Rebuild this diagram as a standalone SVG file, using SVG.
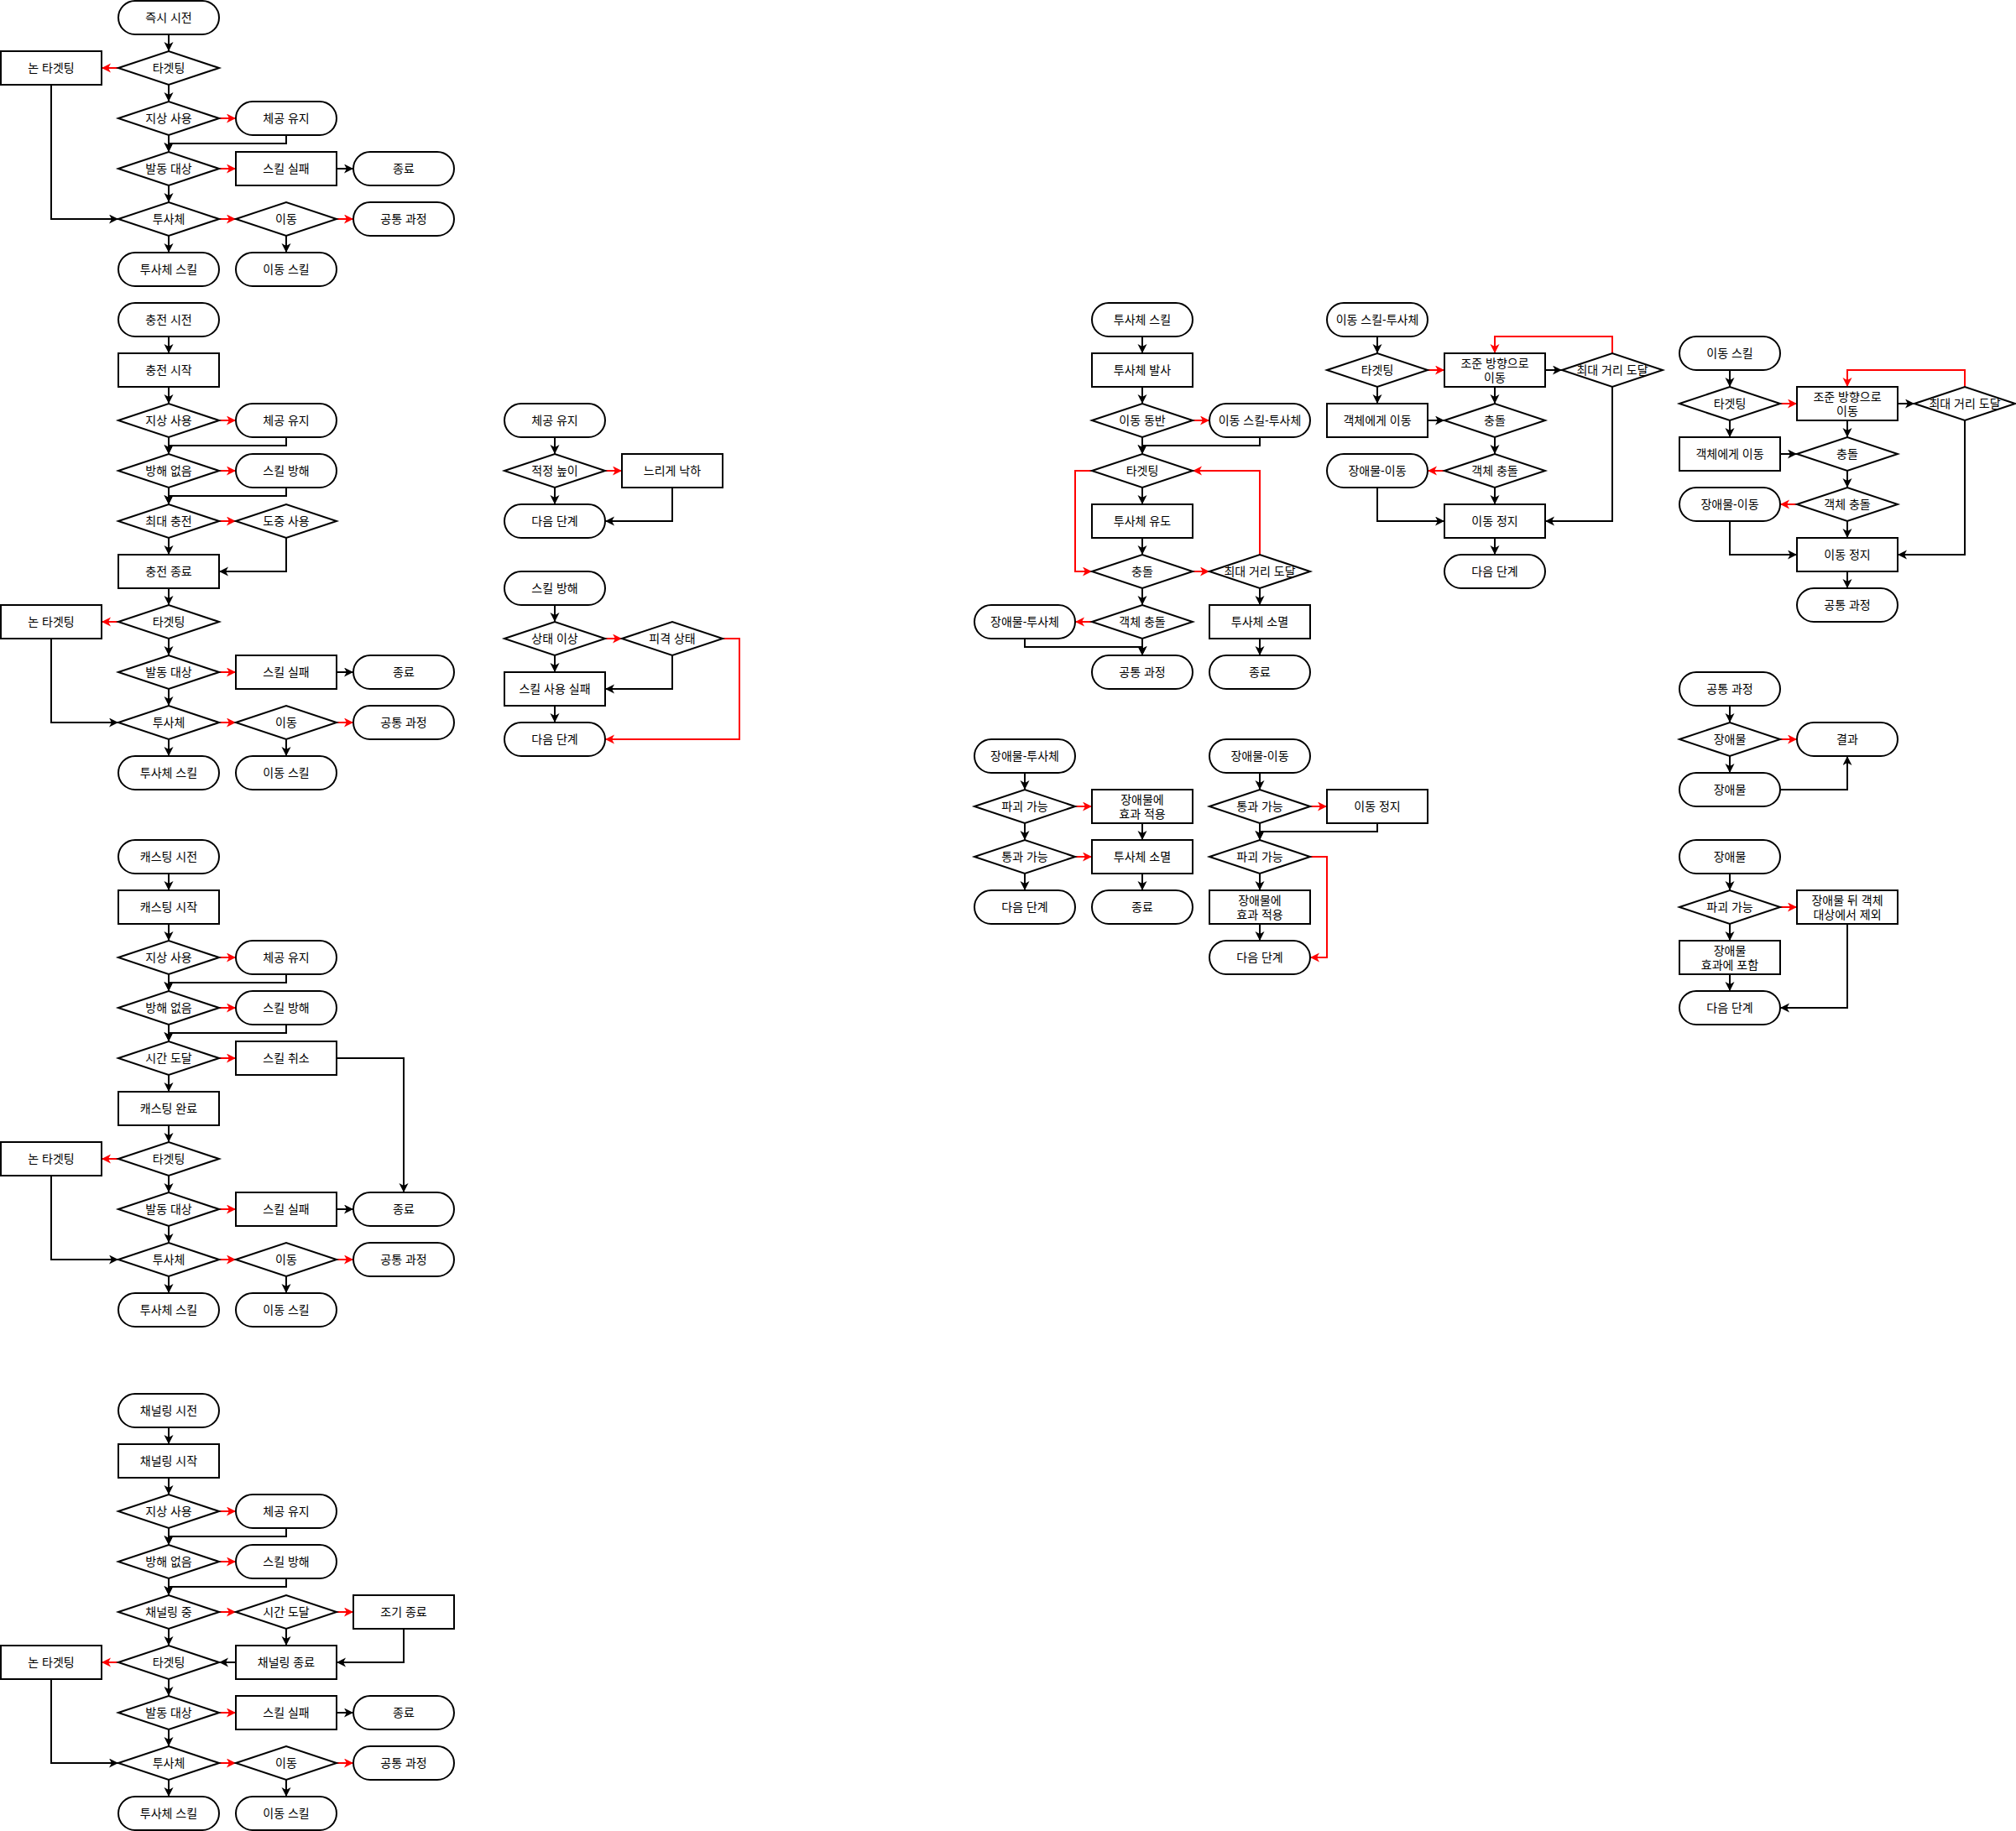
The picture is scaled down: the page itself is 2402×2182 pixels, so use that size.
<svg xmlns="http://www.w3.org/2000/svg" width="2402" height="2182" viewBox="0 0 2402 2182">
<defs>
<style>
.n{fill:#fff;stroke:#000;stroke-width:2}
.t{font-family:"Liberation Sans","Noto Sans CJK KR",sans-serif;font-size:14px;text-anchor:middle;dominant-baseline:central;fill:#000}
.e{fill:none;stroke:#000;stroke-width:2;marker-end:url(#ab)}
.r{fill:none;stroke:#f00;stroke-width:2;marker-end:url(#ar)}
</style>
<marker id="ab" markerUnits="userSpaceOnUse" markerWidth="12" markerHeight="12" refX="11" refY="5.5" orient="auto"><path d="M0,0 L11,5.5 L0,11 L3,5.5 Z" fill="#000"/></marker>
<marker id="ar" markerUnits="userSpaceOnUse" markerWidth="12" markerHeight="12" refX="11" refY="5.5" orient="auto"><path d="M0,0 L11,5.5 L0,11 L3,5.5 Z" fill="#f00"/></marker>
</defs>
<rect width="2402" height="2182" fill="#fff"/>
<g id="connectors">
<path class="e" d="M201 41V61"/><path class="r" d="M141 81H121"/><path class="e" d="M201 101V121"/><path class="r" d="M261 141H281"/><path class="e" d="M341 161V171H201V181"/><path class="e" d="M201 161V181"/><path class="r" d="M261 201H281"/><path class="e" d="M401 201H421"/><path class="e" d="M201 221V241"/><path class="e" d="M61 101V261H141"/><path class="r" d="M261 261H281"/><path class="r" d="M401 261H421"/><path class="e" d="M201 281V301"/><path class="e" d="M341 281V301"/>
<path class="e" d="M201 401V421"/><path class="e" d="M201 461V481"/><path class="r" d="M261 501H281"/><path class="e" d="M341 521V531H201V541"/><path class="e" d="M201 521V541"/><path class="r" d="M261 561H281"/><path class="e" d="M341 581V591H201V601"/><path class="e" d="M201 581V601"/><path class="r" d="M261 621H281"/><path class="e" d="M201 641V661"/><path class="e" d="M341 641V681H261"/><path class="e" d="M201 701V721"/><path class="r" d="M141 741H121"/><path class="e" d="M201 761V781"/><path class="r" d="M261 801H281"/><path class="e" d="M401 801H421"/><path class="e" d="M201 821V841"/><path class="e" d="M61 761V861H141"/><path class="r" d="M261 861H281"/><path class="r" d="M401 861H421"/><path class="e" d="M201 881V901"/><path class="e" d="M341 881V901"/>
<path class="e" d="M201 1041V1061"/><path class="e" d="M201 1101V1121"/><path class="r" d="M261 1141H281"/><path class="e" d="M341 1161V1171H201V1181"/><path class="e" d="M201 1161V1181"/><path class="r" d="M261 1201H281"/><path class="e" d="M341 1221V1231H201V1241"/><path class="e" d="M201 1221V1241"/><path class="r" d="M261 1261H281"/><path class="e" d="M401 1261H481V1421"/><path class="e" d="M201 1281V1301"/><path class="e" d="M201 1341V1361"/><path class="r" d="M141 1381H121"/><path class="e" d="M201 1401V1421"/><path class="r" d="M261 1441H281"/><path class="e" d="M401 1441H421"/><path class="e" d="M201 1461V1481"/><path class="e" d="M61 1401V1501H141"/><path class="r" d="M261 1501H281"/><path class="r" d="M401 1501H421"/><path class="e" d="M201 1521V1541"/><path class="e" d="M341 1521V1541"/>
<path class="e" d="M201 1701V1721"/><path class="e" d="M201 1761V1781"/><path class="r" d="M261 1801H281"/><path class="e" d="M341 1821V1831H201V1841"/><path class="e" d="M201 1821V1841"/><path class="r" d="M261 1861H281"/><path class="e" d="M341 1881V1891H201V1901"/><path class="e" d="M201 1881V1901"/><path class="r" d="M261 1921H281"/><path class="r" d="M401 1921H421"/><path class="e" d="M341 1941V1961"/><path class="e" d="M481 1941V1981H401"/><path class="e" d="M281 1981H261"/><path class="e" d="M201 1941V1961"/><path class="r" d="M141 1981H121"/><path class="e" d="M201 2001V2021"/><path class="r" d="M261 2041H281"/><path class="e" d="M401 2041H421"/><path class="e" d="M201 2061V2081"/><path class="e" d="M61 2001V2101H141"/><path class="r" d="M261 2101H281"/><path class="r" d="M401 2101H421"/><path class="e" d="M201 2121V2141"/><path class="e" d="M341 2121V2141"/>
<path class="e" d="M661 521V541"/><path class="r" d="M721 561H741"/><path class="e" d="M661 581V601"/><path class="e" d="M801 581V621H721"/>
<path class="e" d="M661 721V741"/><path class="r" d="M721 761H741"/><path class="e" d="M661 781V801"/><path class="e" d="M801 781V821H721"/><path class="r" d="M861 761H881V881H721"/><path class="e" d="M661 841V861"/>
<path class="e" d="M1361 401V421"/><path class="e" d="M1361 461V481"/><path class="r" d="M1421 501H1441"/><path class="e" d="M1501 521V531H1361V541"/><path class="e" d="M1361 521V541"/><path class="e" d="M1361 581V601"/><path class="r" d="M1301 561H1281V681H1301"/><path class="e" d="M1361 641V661"/><path class="r" d="M1421 681H1441"/><path class="r" d="M1501 661V561H1421"/><path class="e" d="M1501 701V721"/><path class="e" d="M1501 761V781"/><path class="e" d="M1361 701V721"/><path class="r" d="M1301 741H1281"/><path class="e" d="M1361 761V781"/><path class="e" d="M1221 761V771H1361V781"/>
<path class="e" d="M1641 401V421"/><path class="r" d="M1701 441H1721"/><path class="e" d="M1641 461V481"/><path class="e" d="M1841 441H1861"/><path class="r" d="M1921 421V401H1781V421"/><path class="e" d="M1781 461V481"/><path class="e" d="M1701 501H1721"/><path class="e" d="M1781 521V541"/><path class="r" d="M1721 561H1701"/><path class="e" d="M1781 581V601"/><path class="e" d="M1641 581V621H1721"/><path class="e" d="M1921 461V621H1841"/><path class="e" d="M1781 641V661"/>
<path class="e" d="M2061 441V461"/><path class="r" d="M2121 481H2141"/><path class="e" d="M2061 501V521"/><path class="e" d="M2261 481H2281"/><path class="r" d="M2341 461V441H2201V461"/><path class="e" d="M2201 501V521"/><path class="e" d="M2121 541H2141"/><path class="e" d="M2201 561V581"/><path class="r" d="M2141 601H2121"/><path class="e" d="M2201 621V641"/><path class="e" d="M2061 621V661H2141"/><path class="e" d="M2341 501V661H2261"/><path class="e" d="M2201 681V701"/>
<path class="e" d="M2061 841V861"/><path class="r" d="M2121 881H2141"/><path class="e" d="M2061 901V921"/><path class="e" d="M2121 941H2201V901"/>
<path class="e" d="M2061 1041V1061"/><path class="r" d="M2121 1081H2141"/><path class="e" d="M2061 1101V1121"/><path class="e" d="M2061 1161V1181"/><path class="e" d="M2201 1101V1201H2121"/>
<path class="e" d="M1221 921V941"/><path class="r" d="M1281 961H1301"/><path class="e" d="M1221 981V1001"/><path class="r" d="M1281 1021H1301"/><path class="e" d="M1221 1041V1061"/><path class="e" d="M1361 981V1001"/><path class="e" d="M1361 1041V1061"/>
<path class="e" d="M1501 921V941"/><path class="r" d="M1561 961H1581"/><path class="e" d="M1641 981V991H1501V1001"/><path class="e" d="M1501 981V1001"/><path class="r" d="M1561 1021H1581V1141H1561"/><path class="e" d="M1501 1041V1061"/><path class="e" d="M1501 1101V1121"/>
</g>
<g id="c1-n1"><rect class="n" x="141" y="1" width="120" height="40" rx="20"/><text class="t" x="201" y="21">즉시 시전</text></g>
<g id="c1-n2"><polygon class="n" points="141,81 201,61 261,81 201,101"/><text class="t" x="201" y="81">타겟팅</text></g>
<g id="c1-n3"><rect class="n" x="1" y="61" width="120" height="40"/><text class="t" x="61" y="81">논 타겟팅</text></g>
<g id="c1-n4"><polygon class="n" points="141,141 201,121 261,141 201,161"/><text class="t" x="201" y="141">지상 사용</text></g>
<g id="c1-n5"><rect class="n" x="281" y="121" width="120" height="40" rx="20"/><text class="t" x="341" y="141">체공 유지</text></g>
<g id="c1-n6"><polygon class="n" points="141,201 201,181 261,201 201,221"/><text class="t" x="201" y="201">발동 대상</text></g>
<g id="c1-n7"><rect class="n" x="281" y="181" width="120" height="40"/><text class="t" x="341" y="201">스킬 실패</text></g>
<g id="c1-n8"><rect class="n" x="421" y="181" width="120" height="40" rx="20"/><text class="t" x="481" y="201">종료</text></g>
<g id="c1-n9"><polygon class="n" points="141,261 201,241 261,261 201,281"/><text class="t" x="201" y="261">투사체</text></g>
<g id="c1-n10"><polygon class="n" points="281,261 341,241 401,261 341,281"/><text class="t" x="341" y="261">이동</text></g>
<g id="c1-n11"><rect class="n" x="421" y="241" width="120" height="40" rx="20"/><text class="t" x="481" y="261">공통 과정</text></g>
<g id="c1-n12"><rect class="n" x="141" y="301" width="120" height="40" rx="20"/><text class="t" x="201" y="321">투사체 스킬</text></g>
<g id="c1-n13"><rect class="n" x="281" y="301" width="120" height="40" rx="20"/><text class="t" x="341" y="321">이동 스킬</text></g>
<g id="c2-n1"><rect class="n" x="141" y="361" width="120" height="40" rx="20"/><text class="t" x="201" y="381">충전 시전</text></g>
<g id="c2-n2"><rect class="n" x="141" y="421" width="120" height="40"/><text class="t" x="201" y="441">충전 시작</text></g>
<g id="c2-n3"><polygon class="n" points="141,501 201,481 261,501 201,521"/><text class="t" x="201" y="501">지상 사용</text></g>
<g id="c2-n4"><rect class="n" x="281" y="481" width="120" height="40" rx="20"/><text class="t" x="341" y="501">체공 유지</text></g>
<g id="c2-n5"><polygon class="n" points="141,561 201,541 261,561 201,581"/><text class="t" x="201" y="561">방해 없음</text></g>
<g id="c2-n6"><rect class="n" x="281" y="541" width="120" height="40" rx="20"/><text class="t" x="341" y="561">스킬 방해</text></g>
<g id="c2-n7"><polygon class="n" points="141,621 201,601 261,621 201,641"/><text class="t" x="201" y="621">최대 충전</text></g>
<g id="c2-n8"><polygon class="n" points="281,621 341,601 401,621 341,641"/><text class="t" x="341" y="621">도중 사용</text></g>
<g id="c2-n9"><rect class="n" x="141" y="661" width="120" height="40"/><text class="t" x="201" y="681">충전 종료</text></g>
<g id="c2-n10"><polygon class="n" points="141,741 201,721 261,741 201,761"/><text class="t" x="201" y="741">타겟팅</text></g>
<g id="c2-n11"><rect class="n" x="1" y="721" width="120" height="40"/><text class="t" x="61" y="741">논 타겟팅</text></g>
<g id="c2-n12"><polygon class="n" points="141,801 201,781 261,801 201,821"/><text class="t" x="201" y="801">발동 대상</text></g>
<g id="c2-n13"><rect class="n" x="281" y="781" width="120" height="40"/><text class="t" x="341" y="801">스킬 실패</text></g>
<g id="c2-n14"><rect class="n" x="421" y="781" width="120" height="40" rx="20"/><text class="t" x="481" y="801">종료</text></g>
<g id="c2-n15"><polygon class="n" points="141,861 201,841 261,861 201,881"/><text class="t" x="201" y="861">투사체</text></g>
<g id="c2-n16"><polygon class="n" points="281,861 341,841 401,861 341,881"/><text class="t" x="341" y="861">이동</text></g>
<g id="c2-n17"><rect class="n" x="421" y="841" width="120" height="40" rx="20"/><text class="t" x="481" y="861">공통 과정</text></g>
<g id="c2-n18"><rect class="n" x="141" y="901" width="120" height="40" rx="20"/><text class="t" x="201" y="921">투사체 스킬</text></g>
<g id="c2-n19"><rect class="n" x="281" y="901" width="120" height="40" rx="20"/><text class="t" x="341" y="921">이동 스킬</text></g>
<g id="c3-n1"><rect class="n" x="141" y="1001" width="120" height="40" rx="20"/><text class="t" x="201" y="1021">캐스팅 시전</text></g>
<g id="c3-n2"><rect class="n" x="141" y="1061" width="120" height="40"/><text class="t" x="201" y="1081">캐스팅 시작</text></g>
<g id="c3-n3"><polygon class="n" points="141,1141 201,1121 261,1141 201,1161"/><text class="t" x="201" y="1141">지상 사용</text></g>
<g id="c3-n4"><rect class="n" x="281" y="1121" width="120" height="40" rx="20"/><text class="t" x="341" y="1141">체공 유지</text></g>
<g id="c3-n5"><polygon class="n" points="141,1201 201,1181 261,1201 201,1221"/><text class="t" x="201" y="1201">방해 없음</text></g>
<g id="c3-n6"><rect class="n" x="281" y="1181" width="120" height="40" rx="20"/><text class="t" x="341" y="1201">스킬 방해</text></g>
<g id="c3-n7"><polygon class="n" points="141,1261 201,1241 261,1261 201,1281"/><text class="t" x="201" y="1261">시간 도달</text></g>
<g id="c3-n8"><rect class="n" x="281" y="1241" width="120" height="40"/><text class="t" x="341" y="1261">스킬 취소</text></g>
<g id="c3-n9"><rect class="n" x="141" y="1301" width="120" height="40"/><text class="t" x="201" y="1321">캐스팅 완료</text></g>
<g id="c3-n10"><polygon class="n" points="141,1381 201,1361 261,1381 201,1401"/><text class="t" x="201" y="1381">타겟팅</text></g>
<g id="c3-n11"><rect class="n" x="1" y="1361" width="120" height="40"/><text class="t" x="61" y="1381">논 타겟팅</text></g>
<g id="c3-n12"><polygon class="n" points="141,1441 201,1421 261,1441 201,1461"/><text class="t" x="201" y="1441">발동 대상</text></g>
<g id="c3-n13"><rect class="n" x="281" y="1421" width="120" height="40"/><text class="t" x="341" y="1441">스킬 실패</text></g>
<g id="c3-n14"><rect class="n" x="421" y="1421" width="120" height="40" rx="20"/><text class="t" x="481" y="1441">종료</text></g>
<g id="c3-n15"><polygon class="n" points="141,1501 201,1481 261,1501 201,1521"/><text class="t" x="201" y="1501">투사체</text></g>
<g id="c3-n16"><polygon class="n" points="281,1501 341,1481 401,1501 341,1521"/><text class="t" x="341" y="1501">이동</text></g>
<g id="c3-n17"><rect class="n" x="421" y="1481" width="120" height="40" rx="20"/><text class="t" x="481" y="1501">공통 과정</text></g>
<g id="c3-n18"><rect class="n" x="141" y="1541" width="120" height="40" rx="20"/><text class="t" x="201" y="1561">투사체 스킬</text></g>
<g id="c3-n19"><rect class="n" x="281" y="1541" width="120" height="40" rx="20"/><text class="t" x="341" y="1561">이동 스킬</text></g>
<g id="c4-n1"><rect class="n" x="141" y="1661" width="120" height="40" rx="20"/><text class="t" x="201" y="1681">채널링 시전</text></g>
<g id="c4-n2"><rect class="n" x="141" y="1721" width="120" height="40"/><text class="t" x="201" y="1741">채널링 시작</text></g>
<g id="c4-n3"><polygon class="n" points="141,1801 201,1781 261,1801 201,1821"/><text class="t" x="201" y="1801">지상 사용</text></g>
<g id="c4-n4"><rect class="n" x="281" y="1781" width="120" height="40" rx="20"/><text class="t" x="341" y="1801">체공 유지</text></g>
<g id="c4-n5"><polygon class="n" points="141,1861 201,1841 261,1861 201,1881"/><text class="t" x="201" y="1861">방해 없음</text></g>
<g id="c4-n6"><rect class="n" x="281" y="1841" width="120" height="40" rx="20"/><text class="t" x="341" y="1861">스킬 방해</text></g>
<g id="c4-n7"><polygon class="n" points="141,1921 201,1901 261,1921 201,1941"/><text class="t" x="201" y="1921">채널링 중</text></g>
<g id="c4-n8"><polygon class="n" points="281,1921 341,1901 401,1921 341,1941"/><text class="t" x="341" y="1921">시간 도달</text></g>
<g id="c4-n9"><rect class="n" x="421" y="1901" width="120" height="40"/><text class="t" x="481" y="1921">조기 종료</text></g>
<g id="c4-n10"><polygon class="n" points="141,1981 201,1961 261,1981 201,2001"/><text class="t" x="201" y="1981">타겟팅</text></g>
<g id="c4-n11"><rect class="n" x="1" y="1961" width="120" height="40"/><text class="t" x="61" y="1981">논 타겟팅</text></g>
<g id="c4-n12"><rect class="n" x="281" y="1961" width="120" height="40"/><text class="t" x="341" y="1981">채널링 종료</text></g>
<g id="c4-n13"><polygon class="n" points="141,2041 201,2021 261,2041 201,2061"/><text class="t" x="201" y="2041">발동 대상</text></g>
<g id="c4-n14"><rect class="n" x="281" y="2021" width="120" height="40"/><text class="t" x="341" y="2041">스킬 실패</text></g>
<g id="c4-n15"><rect class="n" x="421" y="2021" width="120" height="40" rx="20"/><text class="t" x="481" y="2041">종료</text></g>
<g id="c4-n16"><polygon class="n" points="141,2101 201,2081 261,2101 201,2121"/><text class="t" x="201" y="2101">투사체</text></g>
<g id="c4-n17"><polygon class="n" points="281,2101 341,2081 401,2101 341,2121"/><text class="t" x="341" y="2101">이동</text></g>
<g id="c4-n18"><rect class="n" x="421" y="2081" width="120" height="40" rx="20"/><text class="t" x="481" y="2101">공통 과정</text></g>
<g id="c4-n19"><rect class="n" x="141" y="2141" width="120" height="40" rx="20"/><text class="t" x="201" y="2161">투사체 스킬</text></g>
<g id="c4-n20"><rect class="n" x="281" y="2141" width="120" height="40" rx="20"/><text class="t" x="341" y="2161">이동 스킬</text></g>
<g id="c5-n1"><rect class="n" x="601" y="481" width="120" height="40" rx="20"/><text class="t" x="661" y="501">체공 유지</text></g>
<g id="c5-n2"><polygon class="n" points="601,561 661,541 721,561 661,581"/><text class="t" x="661" y="561">적정 높이</text></g>
<g id="c5-n3"><rect class="n" x="741" y="541" width="120" height="40"/><text class="t" x="801" y="561">느리게 낙하</text></g>
<g id="c5-n4"><rect class="n" x="601" y="601" width="120" height="40" rx="20"/><text class="t" x="661" y="621">다음 단계</text></g>
<g id="c6-n1"><rect class="n" x="601" y="681" width="120" height="40" rx="20"/><text class="t" x="661" y="701">스킬 방해</text></g>
<g id="c6-n2"><polygon class="n" points="601,761 661,741 721,761 661,781"/><text class="t" x="661" y="761">상태 이상</text></g>
<g id="c6-n3"><polygon class="n" points="741,761 801,741 861,761 801,781"/><text class="t" x="801" y="761">피격 상태</text></g>
<g id="c6-n4"><rect class="n" x="601" y="801" width="120" height="40"/><text class="t" x="661" y="821">스킬 사용 실패</text></g>
<g id="c6-n5"><rect class="n" x="601" y="861" width="120" height="40" rx="20"/><text class="t" x="661" y="881">다음 단계</text></g>
<g id="c7-n1"><rect class="n" x="1301" y="361" width="120" height="40" rx="20"/><text class="t" x="1361" y="381">투사체 스킬</text></g>
<g id="c7-n2"><rect class="n" x="1301" y="421" width="120" height="40"/><text class="t" x="1361" y="441">투사체 발사</text></g>
<g id="c7-n3"><polygon class="n" points="1301,501 1361,481 1421,501 1361,521"/><text class="t" x="1361" y="501">이동 동반</text></g>
<g id="c7-n4"><rect class="n" x="1441" y="481" width="120" height="40" rx="20"/><text class="t" x="1501" y="501">이동 스킬-투사체</text></g>
<g id="c7-n5"><polygon class="n" points="1301,561 1361,541 1421,561 1361,581"/><text class="t" x="1361" y="561">타겟팅</text></g>
<g id="c7-n6"><rect class="n" x="1301" y="601" width="120" height="40"/><text class="t" x="1361" y="621">투사체 유도</text></g>
<g id="c7-n7"><polygon class="n" points="1301,681 1361,661 1421,681 1361,701"/><text class="t" x="1361" y="681">충돌</text></g>
<g id="c7-n8"><polygon class="n" points="1441,681 1501,661 1561,681 1501,701"/><text class="t" x="1501" y="681">최대 거리 도달</text></g>
<g id="c7-n9"><polygon class="n" points="1301,741 1361,721 1421,741 1361,761"/><text class="t" x="1361" y="741">객체 충돌</text></g>
<g id="c7-n10"><rect class="n" x="1161" y="721" width="120" height="40" rx="20"/><text class="t" x="1221" y="741">장애물-투사체</text></g>
<g id="c7-n11"><rect class="n" x="1441" y="721" width="120" height="40"/><text class="t" x="1501" y="741">투사체 소멸</text></g>
<g id="c7-n12"><rect class="n" x="1301" y="781" width="120" height="40" rx="20"/><text class="t" x="1361" y="801">공통 과정</text></g>
<g id="c7-n13"><rect class="n" x="1441" y="781" width="120" height="40" rx="20"/><text class="t" x="1501" y="801">종료</text></g>
<g id="c8-n1"><rect class="n" x="1581" y="361" width="120" height="40" rx="20"/><text class="t" x="1641" y="381">이동 스킬-투사체</text></g>
<g id="c8-n2"><polygon class="n" points="1581,441 1641,421 1701,441 1641,461"/><text class="t" x="1641" y="441">타겟팅</text></g>
<g id="c8-n3"><rect class="n" x="1721" y="421" width="120" height="40"/><text class="t" x="1781"><tspan x="1781" y="432.5">조준 방향으로</tspan><tspan x="1781" y="449.5">이동</tspan></text></g>
<g id="c8-n4"><polygon class="n" points="1861,441 1921,421 1981,441 1921,461"/><text class="t" x="1921" y="441">최대 거리 도달</text></g>
<g id="c8-n5"><rect class="n" x="1581" y="481" width="120" height="40"/><text class="t" x="1641" y="501">객체에게 이동</text></g>
<g id="c8-n6"><polygon class="n" points="1721,501 1781,481 1841,501 1781,521"/><text class="t" x="1781" y="501">충돌</text></g>
<g id="c8-n7"><rect class="n" x="1581" y="541" width="120" height="40" rx="20"/><text class="t" x="1641" y="561">장애물-이동</text></g>
<g id="c8-n8"><polygon class="n" points="1721,561 1781,541 1841,561 1781,581"/><text class="t" x="1781" y="561">객체 충돌</text></g>
<g id="c8-n9"><rect class="n" x="1721" y="601" width="120" height="40"/><text class="t" x="1781" y="621">이동 정지</text></g>
<g id="c8-n10"><rect class="n" x="1721" y="661" width="120" height="40" rx="20"/><text class="t" x="1781" y="681">다음 단계</text></g>
<g id="c9-n1"><rect class="n" x="2001" y="401" width="120" height="40" rx="20"/><text class="t" x="2061" y="421">이동 스킬</text></g>
<g id="c9-n2"><polygon class="n" points="2001,481 2061,461 2121,481 2061,501"/><text class="t" x="2061" y="481">타겟팅</text></g>
<g id="c9-n3"><rect class="n" x="2141" y="461" width="120" height="40"/><text class="t" x="2201"><tspan x="2201" y="472.5">조준 방향으로</tspan><tspan x="2201" y="489.5">이동</tspan></text></g>
<g id="c9-n4"><polygon class="n" points="2281,481 2341,461 2401,481 2341,501"/><text class="t" x="2341" y="481">최대 거리 도달</text></g>
<g id="c9-n5"><rect class="n" x="2001" y="521" width="120" height="40"/><text class="t" x="2061" y="541">객체에게 이동</text></g>
<g id="c9-n6"><polygon class="n" points="2141,541 2201,521 2261,541 2201,561"/><text class="t" x="2201" y="541">충돌</text></g>
<g id="c9-n7"><rect class="n" x="2001" y="581" width="120" height="40" rx="20"/><text class="t" x="2061" y="601">장애물-이동</text></g>
<g id="c9-n8"><polygon class="n" points="2141,601 2201,581 2261,601 2201,621"/><text class="t" x="2201" y="601">객체 충돌</text></g>
<g id="c9-n9"><rect class="n" x="2141" y="641" width="120" height="40"/><text class="t" x="2201" y="661">이동 정지</text></g>
<g id="c9-n10"><rect class="n" x="2141" y="701" width="120" height="40" rx="20"/><text class="t" x="2201" y="721">공통 과정</text></g>
<g id="c10-n1"><rect class="n" x="2001" y="801" width="120" height="40" rx="20"/><text class="t" x="2061" y="821">공통 과정</text></g>
<g id="c10-n2"><polygon class="n" points="2001,881 2061,861 2121,881 2061,901"/><text class="t" x="2061" y="881">장애물</text></g>
<g id="c10-n3"><rect class="n" x="2141" y="861" width="120" height="40" rx="20"/><text class="t" x="2201" y="881">결과</text></g>
<g id="c10-n4"><rect class="n" x="2001" y="921" width="120" height="40" rx="20"/><text class="t" x="2061" y="941">장애물</text></g>
<g id="c11-n1"><rect class="n" x="2001" y="1001" width="120" height="40" rx="20"/><text class="t" x="2061" y="1021">장애물</text></g>
<g id="c11-n2"><polygon class="n" points="2001,1081 2061,1061 2121,1081 2061,1101"/><text class="t" x="2061" y="1081">파괴 가능</text></g>
<g id="c11-n3"><rect class="n" x="2141" y="1061" width="120" height="40"/><text class="t" x="2201"><tspan x="2201" y="1072.5">장애물 뒤 객체</tspan><tspan x="2201" y="1089.5">대상에서 제외</tspan></text></g>
<g id="c11-n4"><rect class="n" x="2001" y="1121" width="120" height="40"/><text class="t" x="2061"><tspan x="2061" y="1132.5">장애물</tspan><tspan x="2061" y="1149.5">효과에 포함</tspan></text></g>
<g id="c11-n5"><rect class="n" x="2001" y="1181" width="120" height="40" rx="20"/><text class="t" x="2061" y="1201">다음 단계</text></g>
<g id="c12-n1"><rect class="n" x="1161" y="881" width="120" height="40" rx="20"/><text class="t" x="1221" y="901">장애물-투사체</text></g>
<g id="c12-n2"><polygon class="n" points="1161,961 1221,941 1281,961 1221,981"/><text class="t" x="1221" y="961">파괴 가능</text></g>
<g id="c12-n3"><rect class="n" x="1301" y="941" width="120" height="40"/><text class="t" x="1361"><tspan x="1361" y="952.5">장애물에</tspan><tspan x="1361" y="969.5">효과 적용</tspan></text></g>
<g id="c12-n4"><polygon class="n" points="1161,1021 1221,1001 1281,1021 1221,1041"/><text class="t" x="1221" y="1021">통과 가능</text></g>
<g id="c12-n5"><rect class="n" x="1301" y="1001" width="120" height="40"/><text class="t" x="1361" y="1021">투사체 소멸</text></g>
<g id="c12-n6"><rect class="n" x="1161" y="1061" width="120" height="40" rx="20"/><text class="t" x="1221" y="1081">다음 단계</text></g>
<g id="c12-n7"><rect class="n" x="1301" y="1061" width="120" height="40" rx="20"/><text class="t" x="1361" y="1081">종료</text></g>
<g id="c13-n1"><rect class="n" x="1441" y="881" width="120" height="40" rx="20"/><text class="t" x="1501" y="901">장애물-이동</text></g>
<g id="c13-n2"><polygon class="n" points="1441,961 1501,941 1561,961 1501,981"/><text class="t" x="1501" y="961">통과 가능</text></g>
<g id="c13-n3"><rect class="n" x="1581" y="941" width="120" height="40"/><text class="t" x="1641" y="961">이동 정지</text></g>
<g id="c13-n4"><polygon class="n" points="1441,1021 1501,1001 1561,1021 1501,1041"/><text class="t" x="1501" y="1021">파괴 가능</text></g>
<g id="c13-n5"><rect class="n" x="1441" y="1061" width="120" height="40"/><text class="t" x="1501"><tspan x="1501" y="1072.5">장애물에</tspan><tspan x="1501" y="1089.5">효과 적용</tspan></text></g>
<g id="c13-n6"><rect class="n" x="1441" y="1121" width="120" height="40" rx="20"/><text class="t" x="1501" y="1141">다음 단계</text></g>
</svg>
